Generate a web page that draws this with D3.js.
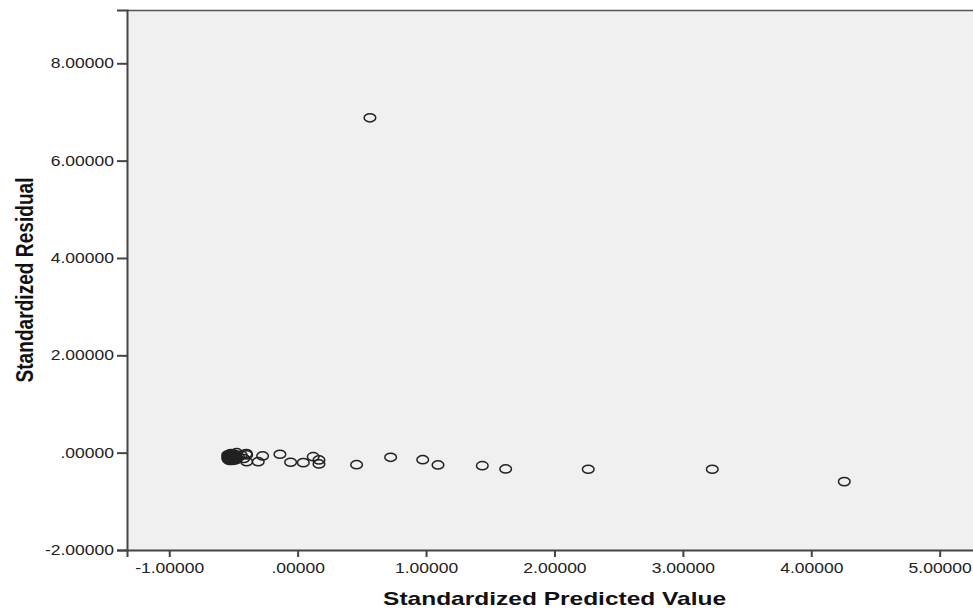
<!DOCTYPE html>
<html>
<head>
<meta charset="utf-8">
<script src="https://cdn.jsdelivr.net/npm/d3@7"></script>
<style>
  body { margin: 0; background: #fff; }
  svg { display: block; font-family: "Liberation Sans", Arial, sans-serif; }
</style>
</head>
<body>
<svg id="chart" width="973" height="610"></svg>
<script>
// values (the dense clump near -0.5 first)
const predicted = [
  -0.545, -0.545, -0.54, -0.54, -0.535, -0.535, -0.53, -0.53, -0.525, -0.525,
  -0.52, -0.52, -0.515, -0.515, -0.51, -0.51, -0.505, -0.505, -0.50, -0.50,
  -0.495, -0.49, -0.485, -0.48, -0.53, -0.51, -0.49, -0.52, -0.50, -0.48,
  -0.46, -0.44, -0.42, -0.40,
  -0.475, -0.397, -0.397, -0.307, -0.273, -0.138, -0.055, 0.044, 0.121, 0.166, 0.166,
  0.459, 0.563, 0.724, 0.974, 1.093, 1.438, 1.620, 2.263, 3.229, 4.257
];
const residual = [
  -0.05, -0.11, -0.08, -0.14, -0.04, -0.10, -0.06, -0.12, -0.09, -0.15,
  -0.05, -0.11, -0.07, -0.13, -0.05, -0.10, -0.08, -0.14, -0.06, -0.11,
  -0.09, -0.13, -0.05, -0.10, -0.16, -0.16, -0.15, -0.02, -0.03, -0.14,
  -0.09, -0.05, -0.12, -0.02,
  0.00, -0.047, -0.185, -0.185, -0.068, -0.033, -0.197, -0.205, -0.082, -0.15, -0.232,
  -0.247, 6.88, -0.095, -0.144, -0.253, -0.267, -0.335, -0.341, -0.341, -0.595
];
const xTicks = [-1, 0, 1, 2, 3, 4, 5];
const xTickLabels = ["-1.00000", ".00000", "1.00000", "2.00000", "3.00000", "4.00000", "5.00000"];
const yTicks = [-2, 0, 2, 4, 6, 8];
const yTickLabels = ["-2.00000", ".00000", "2.00000", "4.00000", "6.00000", "8.00000"];

const svg = d3.select('#chart');
const plotLeft = 127, plotTop = 10, plotRight = 975, plotBottom = 550;

const x = d3.scaleLinear().domain([-1.329, 5.275]).range([plotLeft, plotRight]);
const y = d3.scaleLinear().domain([-2, 9.095]).range([plotBottom, plotTop]);

// plot area
svg.append('rect')
  .attr('x', plotLeft).attr('y', plotTop)
  .attr('width', plotRight - plotLeft).attr('height', plotBottom - plotTop)
  .attr('fill', '#f0f0f0');
svg.append('line')
  .attr('x1', plotLeft).attr('x2', plotRight)
  .attr('y1', plotTop + 0.5).attr('y2', plotTop + 0.5)
  .attr('stroke', '#555').attr('stroke-width', 1.5);

// points
const pts = predicted.map((p, i) => ({p: p, r: residual[i]}));
svg.append('g').selectAll('ellipse')
  .data(pts)
  .join('ellipse')
  .attr('cx', d => x(d.p))
  .attr('cy', d => y(d.r))
  .attr('rx', 5.8)
  .attr('ry', 4.1)
  .attr('fill', 'none')
  .attr('stroke', '#222')
  .attr('stroke-width', 1.5);

// axes
const xAxis = svg.append('g')
  .attr('transform', `translate(0,${plotBottom})`)
  .call(d3.axisBottom(x).tickValues(xTicks).tickSize(7).tickPadding(6)
    .tickFormat((d, i) => xTickLabels[i]));
const yAxis = svg.append('g')
  .attr('transform', `translate(${plotLeft},0)`)
  .call(d3.axisLeft(y).tickValues(yTicks).tickSize(10).tickPadding(3)
    .tickFormat((d, i) => yTickLabels[i]));

[xAxis, yAxis].forEach(g => {
  g.select('.domain').attr('stroke', '#444').attr('stroke-width', 2);
  g.selectAll('.tick line').attr('stroke', '#444').attr('stroke-width', 2);
  g.selectAll('.tick text')
    .attr('font-size', 14)
    .attr('font-family', '"Liberation Sans", Arial, sans-serif')
    .attr('fill', '#222')
    .each(function() {
      const w = this.getComputedTextLength();
      d3.select(this).attr('textLength', w * 1.25).attr('lengthAdjust', 'spacingAndGlyphs');
    });
});

// titles
svg.append('text')
  .attr('x', 554.6).attr('y', 605)
  .attr('text-anchor', 'middle')
  .attr('font-size', 18.5).attr('font-weight', 'bold')
  .attr('fill', '#111')
  .attr('textLength', 343).attr('lengthAdjust', 'spacingAndGlyphs')
  .text('Standardized Predicted Value');

svg.append('text')
  .attr('transform', 'translate(33,280) scale(1.4,1) rotate(-90)')
  .attr('text-anchor', 'middle')
  .attr('font-size', 17.5).attr('font-weight', 'bold')
  .attr('fill', '#111')
  .attr('textLength', 205).attr('lengthAdjust', 'spacingAndGlyphs')
  .text('Standardized Residual');
</script>
</body>
</html>
